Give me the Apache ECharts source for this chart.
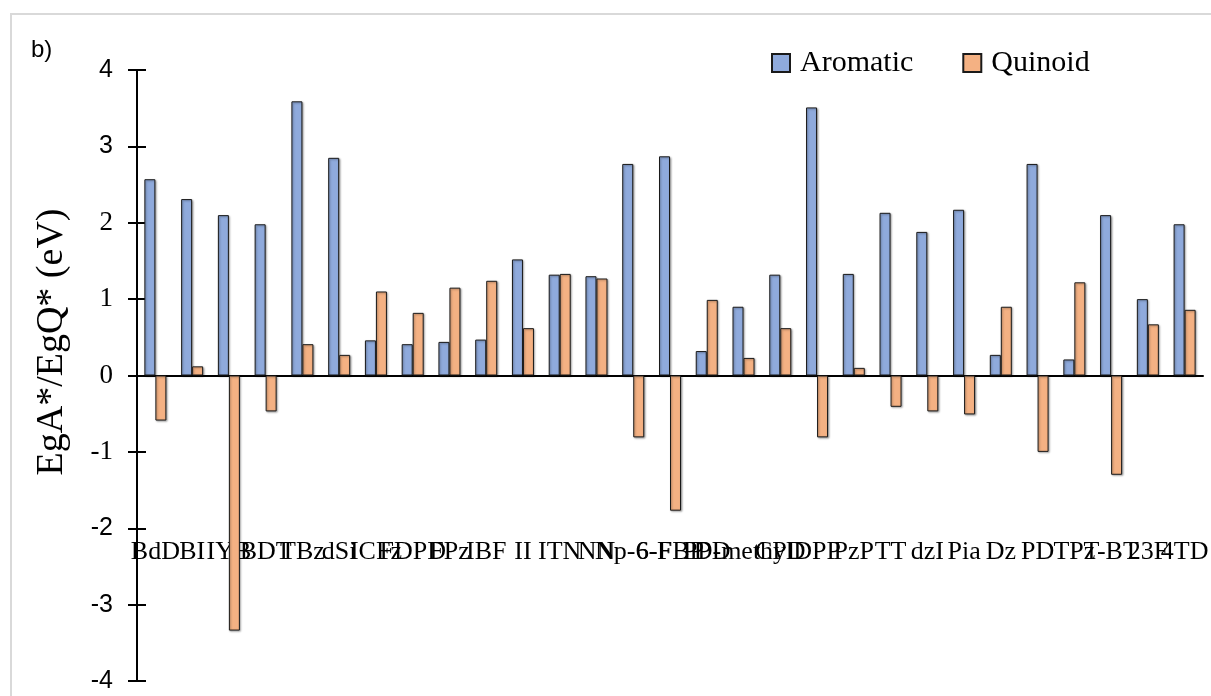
<!DOCTYPE html>
<html>
<head>
<meta charset="utf-8">
<title>Aromatic vs Quinoid</title>
<script src="https://cdn.jsdelivr.net/npm/echarts@6/dist/echarts.min.js"></script>
<style>
  html, body { margin: 0; padding: 0; background: #ffffff; }
  #chart { width: 1211px; height: 696px; }
</style>
</head>
<body>
<div id="chart"></div>
<script>
// Acceptor units (category axis)
const categories = [
  "BdD", "BI", "IYB", "BDT", "TBz", "dSi", "ICFz", "FDPD", "FPz", "IBF",
  "II", "ITN", "NN", "Np-6-F", "6-FBP", "PPD", "D-methyl", "CPD", "DPP", "PzP",
  "TT", "dzI", "Pia", "Dz", "PD", "TPz", "T-BT", "23F", "4TD"
];

// EgA* values (eV)
const aromatic = [
  2.57, 2.31, 2.10, 1.98, 3.59, 2.85, 0.46, 0.41, 0.44, 0.47,
  1.52, 1.32, 1.30, 2.77, 2.87, 0.32, 0.90, 1.32, 3.51, 1.33,
  2.13, 1.88, 2.17, 0.27, 2.77, 0.21, 2.10, 1.00, 1.98
];

// EgQ* values (eV)
const quinoid = [
  -0.59, 0.12, -3.34, -0.47, 0.41, 0.27, 1.10, 0.82, 1.15, 1.24,
  0.62, 1.33, 1.27, -0.81, -1.77, 0.99, 0.23, 0.62, -0.81, 0.10,
  -0.41, -0.47, -0.51, 0.90, -1.00, 1.22, -1.30, 0.67, 0.86
];

// tick values printed in a sans face; the rest use the serif face
const sansTicks = [4, 3, -2, -3, -4];

const chart = echarts.init(document.getElementById('chart'), null, { renderer: 'canvas' });

const barBase = {
  type: 'bar',
  barWidth: 11,
  barGap: '0%',
  animation: false
};

const option = {
  animation: false,
  backgroundColor: '#ffffff',
  grid: {
    left: 137, right: 8, top: 70, bottom: 15,
    containLabel: false,
    outerBoundsMode: 'none'
  },
  legend: {
    data: ['Aromatic', 'Quinoid'],
    left: 771,
    top: 45,
    padding: 0,
    itemWidth: 18,
    itemHeight: 18,
    itemGap: 49,
    icon: 'rect',
    textStyle: {
      fontFamily: 'Liberation Serif',
      fontSize: 30,
      color: '#000',
      lineHeight: 36,
      padding: [0, 0, 0, 5]
    }
  },
  xAxis: {
    type: 'category',
    data: categories,
    axisLine: { onZero: true, lineStyle: { color: '#000', width: 2 } },
    axisTick: { show: false },
    axisLabel: {
      interval: 0,
      margin: -142,
      color: '#000',
      fontFamily: 'Liberation Serif',
      fontSize: 26,
      hideOverlap: false
    },
    splitLine: { show: false }
  },
  yAxis: [
    {
      // serif tick labels, outward ticks and the axis line
      type: 'value',
      min: -4,
      max: 4,
      interval: 1,
      axisLine: { show: true, lineStyle: { color: '#000', width: 2 } },
      axisTick: { show: true, length: 9, lineStyle: { color: '#000', width: 2 } },
      splitLine: { show: false },
      axisLabel: {
        margin: 24,
        color: '#000',
        fontFamily: 'Liberation Serif',
        fontSize: 27,
        formatter: function (v) {
          return sansTicks.indexOf(Number(v)) >= 0 ? '' : String(v);
        }
      }
    },
    {
      // sans tick labels and inward ticks
      type: 'value',
      position: 'left',
      min: -4,
      max: 4,
      interval: 1,
      axisLine: { show: false },
      axisTick: { show: true, inside: true, length: 9, lineStyle: { color: '#000', width: 2 } },
      axisLabel: {
        margin: 24,
        color: '#000',
        fontFamily: 'Liberation Sans',
        fontSize: 25,
        formatter: function (v) {
          return sansTicks.indexOf(Number(v)) >= 0 ? String(v) : '';
        }
      },
      splitLine: { show: false }
    }
  ],
  series: [
    Object.assign({}, barBase, {
      name: 'Aromatic',
      data: aromatic,
      itemStyle: {
        color: '#8FAADC',
        borderColor: '#1a1a1a',
        borderWidth: 1,
        shadowColor: 'rgba(0,0,0,0.35)',
        shadowBlur: 2,
        shadowOffsetX: 1,
        shadowOffsetY: 1
      }
    }),
    Object.assign({}, barBase, {
      name: 'Quinoid',
      data: quinoid,
      itemStyle: {
        color: '#F4B183',
        borderColor: '#1a1a1a',
        borderWidth: 1,
        shadowColor: 'rgba(0,0,0,0.35)',
        shadowBlur: 2,
        shadowOffsetX: 1,
        shadowOffsetY: 1
      }
    })
  ],
  graphic: [
    {
      type: 'rect',
      silent: true,
      shape: { x: 11, y: 14, width: 1220, height: 700 },
      style: { fill: 'none', stroke: '#d9d9d9', lineWidth: 2 },
      z: -1
    },
    {
      type: 'text',
      left: 31,
      top: 38,
      style: { text: 'b)', fontFamily: 'Liberation Sans', fontSize: 24, fill: '#000' }
    },
    {
      type: 'text',
      x: 52,
      y: 342,
      rotation: Math.PI / 2,
      style: {
        text: 'EgA*/EgQ* (eV)',
        fontFamily: 'Liberation Serif',
        fontSize: 38,
        fill: '#000',
        align: 'center',
        verticalAlign: 'middle'
      }
    }
  ]
};

chart.setOption(option);
</script>
</body>
</html>
